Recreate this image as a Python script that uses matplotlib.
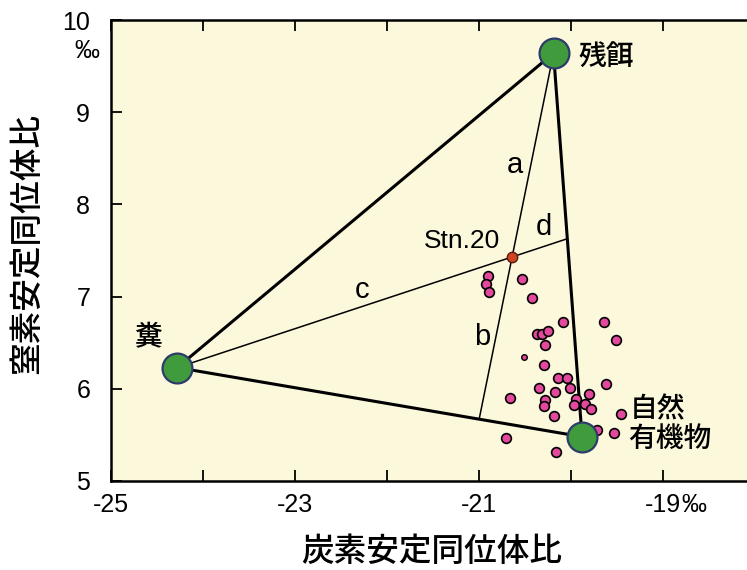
import numpy as np
import matplotlib.pyplot as plt

plt.rcParams['font.family'] = ['Liberation Sans', 'Noto Sans CJK JP', 'DejaVu Sans']

# 端成分 (δ13C, δ15N)
端成分名 = ['残餌', '糞', '自然\n有機物']
端成分_x = [-20.19, -24.28, -19.88]
端成分_y = [9.64, 6.23, 5.48]

# Stn.20
stn_x = -20.64
stn_y = 7.43

# 試料 (ピンクの点)
試料_x = [-20.90, -20.92, -20.89, -20.53, -20.42, -20.09, -19.64, -19.51,
         -20.37, -20.31, -20.25, -20.28, -20.29, -20.14, -20.04, -20.35,
         -20.17, -20.01, -19.62, -20.66, -20.28, -20.29, -19.95, -19.80,
         -19.85, -19.97, -19.78, -20.18, -19.46, -20.71, -20.16, -19.53,
         -19.72]
試料_y = [7.22, 7.14, 7.05, 7.19, 6.98, 6.72, 6.72, 6.53,
         6.59, 6.59, 6.63, 6.47, 6.26, 6.12, 6.12, 6.01,
         5.96, 6.01, 6.05, 5.90, 5.88, 5.81, 5.89, 5.94,
         5.84, 5.82, 5.78, 5.71, 5.73, 5.47, 5.31, 5.52,
         5.55]
# 半分隠れた点
小点_x = [-20.51]
小点_y = [6.34]

x_ticks = [-25, -24, -23, -22, -21, -20, -19]
x_labels = ['-25', '', '-23', '', '-21', '', '-19']
y_ticks = [5, 6, 7, 8, 9, 10]

CJK = dict(fontweight='medium')


def 交点(p1, p2, p3, p4):
    # 直線 p1-p2 と 直線 p3-p4 の交点
    p1, p2, p3, p4 = map(np.array, (p1, p2, p3, p4))
    d1 = p2 - p1
    d2 = p4 - p3
    a = np.array([d1, -d2]).T
    t, _ = np.linalg.solve(a, p3 - p1)
    return p1 + t * d1


def main():
    fig = plt.figure(figsize=(7.47, 5.70), dpi=100)
    ax = fig.add_axes([111 / 747, 1 - 481 / 570, 636 / 747, 461 / 570])
    ax.set_facecolor('#fbf8dc')
    ax.set_xlim(-25, -25 + 636 / 92)
    ax.set_ylim(5, 10)

    zan = (端成分_x[0], 端成分_y[0])
    fun = (端成分_x[1], 端成分_y[1])
    shizen = (端成分_x[2], 端成分_y[2])
    stn = (stn_x, stn_y)

    # 三角形
    for p, q in [(zan, fun), (fun, shizen), (zan, shizen)]:
        ax.plot([p[0], q[0]], [p[1], q[1]], color='black', lw=2.2, zorder=2)

    # Stn.20 を通る線
    end_ab = 交点(zan, stn, fun, shizen)
    end_cd = 交点(fun, stn, zan, shizen)
    ax.plot([zan[0], end_ab[0]], [zan[1], end_ab[1]], color='black', lw=1.1, zorder=2)
    ax.plot([fun[0], end_cd[0]], [fun[1], end_cd[1]], color='black', lw=1.1, zorder=2)

    ax.plot(試料_x, 試料_y, 'o', ms=7, mfc='#e2489b', mec='black', mew=1.2, zorder=3)
    ax.plot(小点_x, 小点_y, 'o', ms=4, mfc='#e2489b', mec='black', mew=1.0, zorder=3)
    ax.plot(端成分_x, 端成分_y, 'o', ms=21.5, mfc='#3f9b3c', mec='#2e3c6c', mew=1.6, zorder=4)
    ax.plot([stn_x], [stn_y], 'o', ms=7.5, mfc='#cc4422', mec='#5a1a10', mew=1.0, zorder=5)

    # ラベル
    ax.text(-19.92, 9.59, '残餌', fontsize=20, ha='left', va='center', **CJK)
    ax.text(-24.60, 6.55, '糞', fontsize=20, ha='center', va='center', **CJK)
    ax.text(-19.36, 5.77, '自然', fontsize=20, ha='left', va='center', **CJK)
    ax.text(-19.38, 5.445, '有機物', fontsize=20, ha='left', va='center', **CJK)
    ax.text(-20.77, 7.60, 'Stn.20', fontsize=19, ha='right', va='center')
    ax.text(-20.61, 8.43, 'a', fontsize=21, ha='center', va='center')
    ax.text(-20.96, 6.56, 'b', fontsize=21, ha='center', va='center')
    ax.text(-22.27, 7.07, 'c', fontsize=21, ha='center', va='center')
    ax.text(-20.29, 7.76, 'd', fontsize=21, ha='center', va='center')

    # 軸
    ax.spines['right'].set_visible(False)
    for s in ['left', 'top', 'bottom']:
        ax.spines[s].set_linewidth(1.8)
    ax.set_xticks(x_ticks)
    ax.set_xticklabels(x_labels)
    ax.set_yticks(y_ticks)
    ax.tick_params(axis='x', direction='in', length=8, width=1.3, top=True,
                   labelsize=18, pad=9)
    ax.tick_params(axis='y', direction='in', length=8, width=1.3,
                   labelsize=18, pad=15)
    ax.annotate('‰', xy=(-19, 0), xycoords=('data', 'axes fraction'),
                xytext=(13, -9), textcoords='offset points',
                fontsize=18, ha='left', va='top')
    ax.text(-25.26, 9.66, '‰', fontsize=18, ha='center', va='center', clip_on=False)

    fig.text(432 / 747, 1 - 552 / 570, '炭素安定同位体比', fontsize=23.5,
             ha='center', va='center', **CJK)
    fig.text(28 / 747, 1 - 243 / 570, '窒素安定同位体比', fontsize=23.5,
             ha='center', va='center', rotation=90, **CJK)

    fig.savefig('out.png', dpi=100)


if __name__ == "__main__":
    main()
